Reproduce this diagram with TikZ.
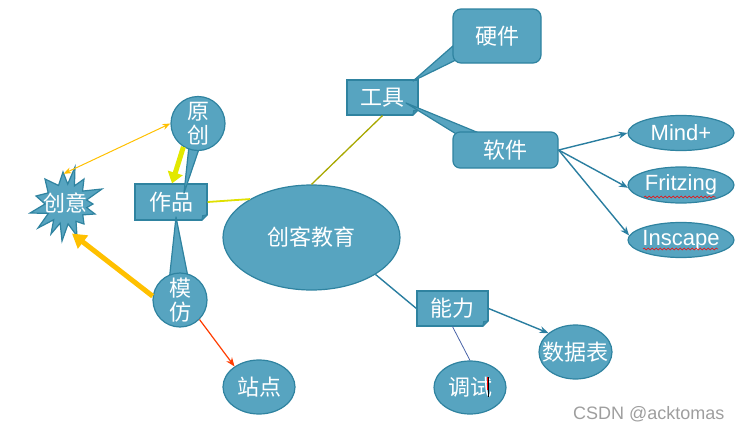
\documentclass[tikz,border=0pt]{standalone}
\usepackage{fontspec}
\setmainfont{Liberation Sans}
\newfontfamily\cjk{Noto Sans CJK SC}
\usetikzlibrary{shapes.geometric,arrows.meta,decorations.pathmorphing}
\definecolor{bfill}{HTML}{57A4C0}
\definecolor{bline}{HTML}{2F83A0}
\definecolor{foldc}{HTML}{3B8CA8}
\definecolor{tealc}{HTML}{2A7EA0}
\definecolor{yelc}{HTML}{E0E000}
\definecolor{olivec}{HTML}{A8A800}
\definecolor{ygc}{HTML}{E2E800}
\definecolor{orc}{HTML}{FFC000}
\definecolor{redc}{HTML}{FF3C00}
\definecolor{bluec}{HTML}{4A64A8}
\begin{document}
\begin{tikzpicture}[x=1pt,y=-1pt,
  every node/.style={text=white},
  shp/.style={fill=bfill,draw=bline,line width=1.2pt},
  cn/.style={font=\cjk\fontsize{22}{24}\selectfont},
  en/.style={font=\fontsize{22}{24}\selectfont},
  boxn/.style={shp,rectangle,inner sep=0pt,cn},
  ell/.style={shp,ellipse,inner sep=0pt},
  lbl/.style={label={[cn,align=center,text=white]center:#1}},
  elbl/.style={label={[en,text=white]center:#1}},
  tealline/.style={draw=tealc,line width=1.4pt},
  tealarr/.style={tealline,-{Stealth[length=9pt,width=7pt]}},
  squig/.style={draw=red,line width=0.5pt,decorate,decoration={snake,amplitude=1pt,segment length=4pt}}
]
\useasboundingbox (0,0) rectangle (745,431);

% central ellipse
\node[ell,minimum width=177pt,minimum height=105pt,cn] (ck) at (311.5,237.5) {创客教育};

% rectangles with folded corner
\node[boxn,minimum width=72pt,minimum height=36pt] (zp) at (171,202) {作品};
\node[boxn,minimum width=71pt,minimum height=35pt] (gj) at (382.5,97.5) {工具};
\node[boxn,minimum width=71pt,minimum height=35pt] (nl) at (452.5,308.5) {能力};
\foreach \b in {zp,gj,nl}{
  \fill[white] ([xshift=0.6pt,yshift=-0.6pt]\b.south east) -- ([xshift=-6pt,yshift=-0.6pt]\b.south east) -- ([xshift=0.6pt,yshift=6pt]\b.south east) -- cycle;
  \filldraw[fill=foldc,draw=bline,line width=0.8pt,line join=round] ([xshift=-6pt]\b.south east) -- ([yshift=6pt]\b.south east) -- ([xshift=-5pt,yshift=5pt]\b.south east) -- cycle;
}

% callout tails
\filldraw[shp,line join=round] (189,146) -- (184,193) -- (200,146) -- cycle;
\filldraw[shp,line join=round] (169,282) -- (176,217) -- (189,282) -- cycle;
\filldraw[shp,line join=round] (462,38) -- (413,81) -- (462,57) -- cycle;
\filldraw[shp,line join=round] (466,140) -- (406,103) -- (496,140) -- cycle;

% circles and rounded boxes
\node[shp,circle,minimum size=54pt,inner sep=0pt,lbl={原\\创}] (yc) at (198,123.5) {};
\node[shp,circle,minimum size=54pt,inner sep=0pt,lbl={模\\仿}] (mf) at (180,300) {};
\node[shp,rectangle,rounded corners=8pt,minimum width=88pt,minimum height=54pt,cn] (yj) at (497,36) {硬件};
\node[shp,rectangle,rounded corners=7pt,minimum width=105pt,minimum height=36pt,cn] (rj) at (505.5,150) {软件};

% starburst
\filldraw[shp,line join=miter,miter limit=10]
  (45,179) -- ([shift={(66,204)}]-112:20) --
  (63,172) -- ([shift={(66,204)}]-85:20) --
  (75,167) -- ([shift={(66,204)}]-65:20) --
  (84,179) -- ([shift={(66,204)}]-38:21) --
  (102,189) -- ([shift={(66,204)}]-11:21) --
  (93,204) -- ([shift={(66,204)}]10:21) --
  (95,214) -- ([shift={(66,204)}]33:20) --
  (84,224) -- ([shift={(66,204)}]60:20) --
  (77,236) -- ([shift={(66,204)}]84:20) --
  (62,241) -- ([shift={(66,204)}]107:20) --
  (51,234) -- ([shift={(66,204)}]128:20) --
  (38,228) -- ([shift={(66,204)}]152:20) --
  (30,213) -- ([shift={(66,204)}]180:21) --
  (36,196) -- ([shift={(66,204)}]-148:21) -- cycle;
\node[circle,minimum size=62pt,inner sep=0pt,cn] (cy) at (65.5,203) {创意};

% ellipses
\node[ell,minimum width=72pt,minimum height=54pt,lbl={站点}] (zd) at (259,387) {};
\node[ell,minimum width=72pt,minimum height=53pt,lbl={调试}] (ts) at (470,387.5) {};
\node[ell,minimum width=73pt,minimum height=54pt,lbl={数据表}] (sjb) at (575.5,352) {};
\node[ell,minimum width=106pt,minimum height=35pt,elbl={Mind+}] (md) at (681,133) {};
\node[ell,minimum width=106pt,minimum height=36pt,elbl={Fritzing}] (fz) at (681,185) {};
\node[ell,minimum width=106pt,minimum height=35pt,elbl={Inscape}] (ik) at (681,240) {};

% spell-check marks and cursor
\draw[squig] (644,197) -- (716,197);
\draw[squig] (643,249) -- (718,249);
\draw[black,line width=0.8pt] (488,377) -- (488,397);
\draw[red,line width=0.6pt] (487.3,377) -- (487.3,390);

% connectors
\draw[draw=yelc,line width=1.8pt] (zp.east) -- (ck.148.6);
\draw[draw=olivec,line width=1.3pt] (gj.south) -- (ck.north);
\draw[tealarr] (rj.east) -- (md.west);
\draw[tealarr] (rj.east) -- (fz.183);
\draw[tealarr] (rj.east) -- (ik.175);
\draw[tealline] (ck.-30) -- (nl.west);
\draw[tealarr] (nl.east) -- (sjb.145);
\draw[draw=bluec,line width=0.8pt] (nl.south) -- (ts.north);
\draw[draw=orc,line width=1pt,{Stealth[length=8pt,width=6pt]}-{Stealth[length=8pt,width=6pt]}] ([xshift=-2pt,yshift=-2pt]cy.north) -- (yc.west);
\draw[draw=ygc,line width=5pt,-{Triangle[length=11pt,width=15pt]}] (yc.238) -- ([xshift=1pt]zp.north);
\draw[draw=orc,line width=5pt,-{Triangle[length=14pt,width=16pt]}] (mf.172) -- (cy.-78);
\draw[draw=redc,line width=1.2pt,-{Stealth[length=9pt,width=7pt]}] (mf.-45) -- (zd.140);

% watermark
\node[font=\fontsize{18}{20}\selectfont,text=black!38,anchor=west,inner sep=0pt] (wm) at (573,414) {CSDN @acktomas};
\end{tikzpicture}
\end{document}
